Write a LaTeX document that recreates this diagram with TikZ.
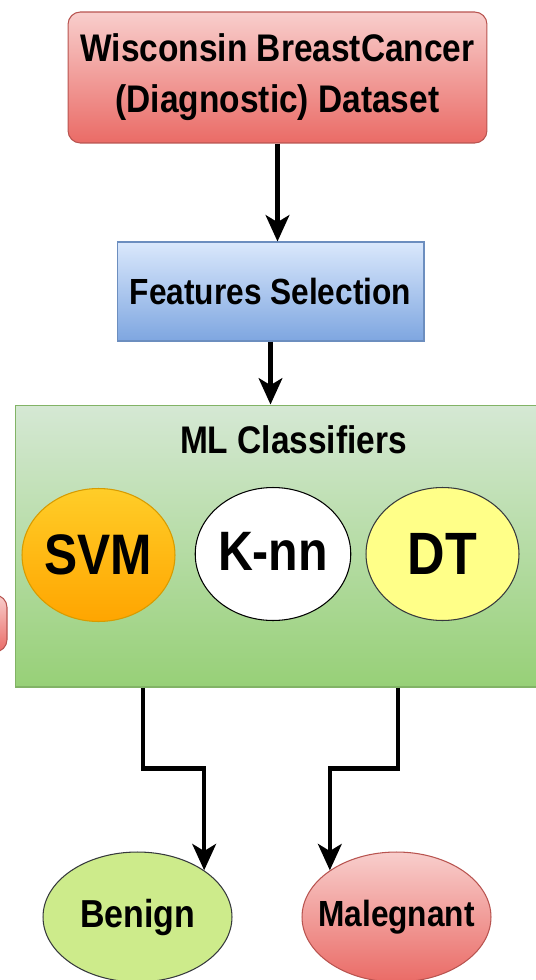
\documentclass[tikz,border=0pt]{standalone}
\usepackage{fontspec}
\setmainfont[FakeStretch=0.87]{Liberation Sans}
\usepackage{tikz}
\usetikzlibrary{positioning,arrows.meta,calc,shapes.geometric}

\definecolor{redtop}{HTML}{F8CECC}
\definecolor{redbot}{HTML}{EA6B66}
\definecolor{redline}{HTML}{B85450}
\definecolor{bluetop}{HTML}{DAE8FC}
\definecolor{bluebot}{HTML}{7EA6E0}
\definecolor{blueline}{HTML}{6C8EBF}
\definecolor{greentop}{HTML}{D5E8D4}
\definecolor{greenbot}{HTML}{97D077}
\definecolor{greenline}{HTML}{82B366}
\definecolor{orangetop}{HTML}{FFCD28}
\definecolor{orangebot}{HTML}{FFA500}
\definecolor{orangeline}{HTML}{D79B00}
\definecolor{yellowfill}{HTML}{FFFF88}
\definecolor{limefill}{HTML}{CDEB8B}
\definecolor{darkline}{HTML}{36393D}

\begin{document}
\begin{tikzpicture}[
  x=0.02cm, y=-0.02cm,
  box/.style={draw, line width=0.6pt, align=center, inner sep=0pt, font=\bfseries},
  redbox/.style={box, rounded corners=7pt, top color=redtop, bottom color=redbot, draw=redline},
  bluebox/.style={box, top color=bluetop, bottom color=bluebot, draw=blueline},
  greenbox/.style={box, top color=greentop, bottom color=greenbot, draw=greenline},
  oval/.style={box, ellipse},
  algo/.style={oval, minimum width=3.06cm, minimum height=2.66cm, font=\bfseries\fontsize{32.5}{36}\selectfont},
  result/.style={oval, minimum width=3.78cm, minimum height=2.6cm},
  arr/.style={-{Stealth[length=15pt, width=13.5pt, inset=4pt]}, line width=2.4pt, black}
]
\useasboundingbox (0,0) rectangle (536,980);

% cut-off box at the left edge
\draw[line width=0.6pt, rounded corners=7pt, top color=redtop, bottom color=redbot, draw=redline]
  (-40,595) rectangle (7,652);

\node[redbox, minimum width=8.38cm, minimum height=2.62cm, font=\bfseries\fontsize{21.9}{29}\selectfont]
  (data) at (277.5,77.5) {Wisconsin BreastCancer\\(Diagnostic) Dataset};
\node[bluebox, minimum width=6.14cm, minimum height=1.98cm, font=\bfseries\fontsize{20.7}{24}\selectfont]
  (feat) at (270.5,291.5) {Features Selection};
\node[greenbox, minimum width=10.46cm, minimum height=5.64cm] (ml) at (276.5,546) {};
\node[font=\bfseries\fontsize{21.9}{24}\selectfont] (mltitle) at (293.5,440) {ML Classifiers};

\node[algo, top color=orangetop, bottom color=orangebot, draw=orangeline] (svm) at (98.5,555) {SVM};
\node[algo, fill=white, draw=black, font=\bfseries\fontsize{31.6}{36}\selectfont] (knn) at (273,554) {\raisebox{3pt}{K-nn}};
\node[algo, fill=yellowfill, draw=darkline, font=\bfseries\fontsize{34}{36}\selectfont] (dt) at (442.5,554) {DT};

\node[result, fill=limefill, draw=darkline, font=\bfseries\fontsize{22.2}{26}\selectfont] (benign) at (137.5,917) {\makebox[0pt]{Benign}};
\node[result, top color=redtop, bottom color=redbot, draw=redline, font=\bfseries\fontsize{20.7}{26}\selectfont] (malig) at (396.5,917) {\makebox[0pt]{Malegnant}};

\draw[arr] (data) -- (data |- feat.north);
\draw[arr] (feat) -- (feat |- ml.north);
\draw[arr] ($(ml.south)+(-133.5,0)$) -- ++(0,81) -| (benign.35);
\draw[arr] ($(ml.south)+(121.5,0)$) -- ++(0,81) -| (malig.145);
\end{tikzpicture}
\end{document}
